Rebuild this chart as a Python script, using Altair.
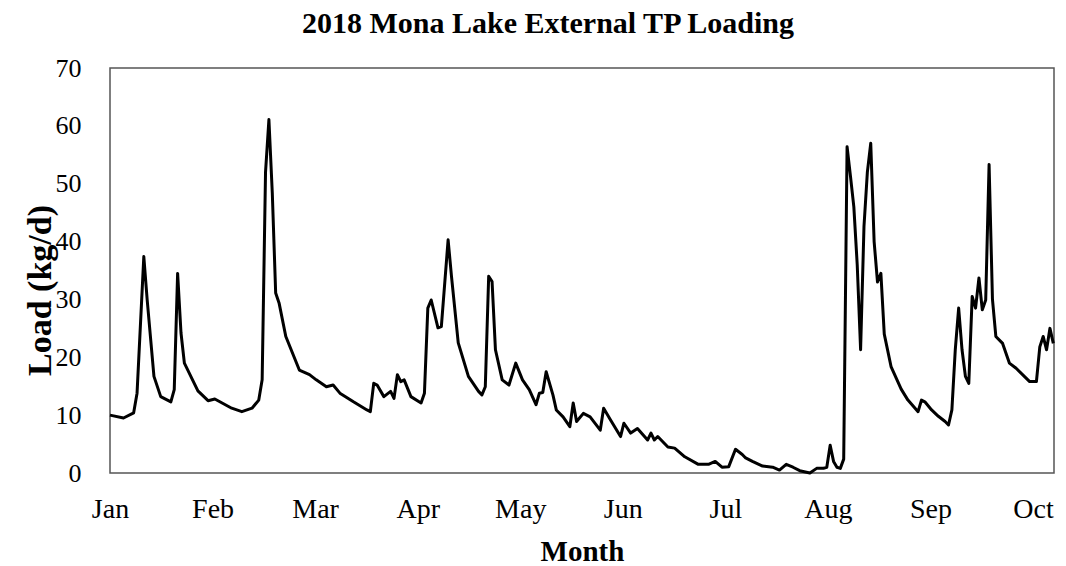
import json
import altair as alt
import pandas as pd

# Daily external total-phosphorus load, day 0 = Jan 1, 2018
days = [
    0, 4, 7, 8, 10, 11, 13, 15, 18, 19, 20, 21, 22, 26, 29, 31, 36, 39, 42, 44,
    45, 46, 47, 48, 49, 50, 52, 56, 59, 61, 64, 66, 68, 72, 76, 77, 78, 79, 81, 83,
    84, 85, 86, 87, 89, 92, 93, 94, 95, 97, 98, 100, 101, 103, 106, 109, 110, 111, 112, 113,
    114, 116, 118, 120, 122, 124, 126, 127, 128, 129, 131, 132, 134, 136, 137, 138, 140, 142, 145, 146,
    148, 151, 152, 154, 156, 159, 160, 161, 162, 165, 167, 170, 174, 177, 179, 181, 183, 185, 187, 188,
    190, 193, 196, 198, 200, 202, 204, 207, 209, 211, 212, 213, 214, 215, 216, 217, 218, 219, 220, 221,
    222, 223, 224, 225, 226, 227, 228, 229, 231, 234, 236, 239, 240, 241, 243, 245, 247, 248, 249, 250,
    251, 252, 253, 254, 255, 256, 257, 258, 259, 260, 261, 262, 264, 266, 268, 272, 274, 275, 276, 277,
    278, 279,
]
load_kg_d = [
    10.0, 9.5, 10.4, 13.8, 37.4, 29.9, 16.7, 13.2, 12.3, 14.4, 34.5, 24.2, 19.0, 14.2, 12.5, 12.8, 11.2, 10.6, 11.2, 12.6,
    16.1, 52.0, 61.1, 48.4, 31.1, 29.4, 23.6, 17.8, 17.0, 16.1, 14.9, 15.2, 13.8, 12.3, 10.9, 10.6, 15.5, 15.2, 13.2, 14.1,
    12.9, 17.0, 15.8, 16.1, 13.2, 12.1, 13.8, 28.5, 29.9, 25.1, 25.3, 40.3, 34.0, 22.5, 16.7, 14.1, 13.5, 14.9, 34.0, 33.1,
    21.3, 16.1, 15.2, 19.0, 16.1, 14.4, 11.8, 13.8, 13.9, 17.5, 13.5, 10.9, 9.7, 8.0, 12.1, 8.9, 10.3, 9.7, 7.4, 11.2,
    9.2, 6.3, 8.6, 6.9, 7.7, 5.7, 6.9, 5.7, 6.3, 4.5, 4.3, 2.8, 1.5, 1.5, 2.0, 1.0, 1.1, 4.1, 3.2, 2.6,
    2.0, 1.2, 1.0, 0.5, 1.5, 1.0, 0.4, 0.0, 0.8, 0.8, 1.0, 4.8, 2.0, 1.0, 0.8, 2.4, 56.4, 51.3, 46.0, 36.0,
    21.3, 42.6, 52.0, 57.0, 40.0, 33.0, 34.5, 24.0, 18.4, 14.5, 12.6, 10.6, 12.6, 12.3, 10.9, 9.8, 8.9, 8.3, 10.9, 21.3,
    28.5, 21.3, 16.7, 15.5, 30.5, 28.5, 33.7, 28.2, 29.9, 53.3, 30.0, 23.6, 22.4, 19.0, 18.1, 15.8, 15.8, 21.8, 23.6, 21.3,
    25.0, 22.4,
]

month_names = ["Jan", "Feb", "Mar", "Apr", "May", "Jun", "Jul", "Aug", "Sep", "Oct"]
month_step = 273 / 9  # evenly spaced month ticks, Jan 1 .. Oct 1
y_ticks = [0, 10, 20, 30, 40, 50, 60, 70]

df = pd.DataFrame({"day": days, "load": load_kg_d})
tick_vals = [i * month_step for i in range(len(month_names))]
label_expr = f"{json.dumps(month_names)}[round(datum.value / {month_step})]"

FONT = "Liberation Serif"

chart = (
    alt.Chart(df)
    .mark_line(color="black", strokeWidth=3, strokeJoin="round")
    .encode(
        x=alt.X(
            "day:Q",
            scale=alt.Scale(domain=[0, 279.2], nice=False, zero=False),
            axis=alt.Axis(
                values=tick_vals,
                labelExpr=label_expr,
                title="Month",
                grid=False,
                ticks=False,
                domain=False,
                labelFlush=False,
                labelOverlap=False,
                labelFont=FONT,
                labelFontSize=28,
                labelColor="black",
                labelPadding=22,
                titleFont=FONT,
                titleFontSize=29,
                titleFontWeight="bold",
                titleColor="black",
                titleBaseline="middle",
                titleY=78,
            ),
        ),
        y=alt.Y(
            "load:Q",
            scale=alt.Scale(domain=[0, 70], nice=False),
            axis=alt.Axis(
                values=y_ticks,
                title="Load (kg/d)",
                grid=False,
                ticks=False,
                domain=False,
                labelFont=FONT,
                labelFontSize=26,
                labelColor="black",
                labelPadding=29,
                titleFont=FONT,
                titleFontSize=34,
                titleFontWeight="bold",
                titleColor="black",
                titleAngle=270,
                titleAlign="center",
                titleBaseline="middle",
                titleX=-70,
                titleY=222,
            ),
        ),
    )
    .properties(
        width=944,
        height=405,
        background="white",
        title=alt.TitleParams(
            "2018 Mona Lake External TP Loading",
            font=FONT,
            fontSize=30,
            fontWeight="bold",
            color="black",
            anchor="middle",
            offset=16,
            dx=-34,
        ),
        padding={"left": 110, "top": 68, "right": 12, "bottom": 93},
        autosize="none",
    )
    .configure_view(stroke="#555555", strokeWidth=1.5)
)

chart.save("out.html", embed_options={"renderer": "svg", "actions": False})
